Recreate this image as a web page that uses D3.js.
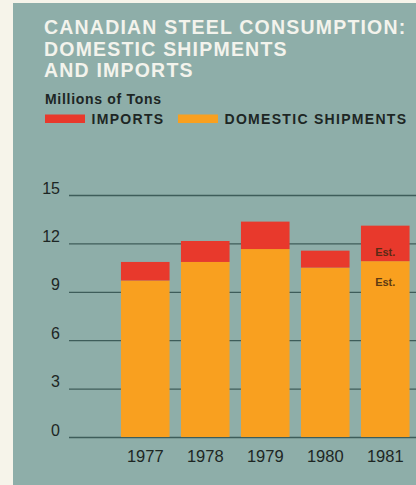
<!DOCTYPE html>
<html><head><meta charset="utf-8">
<script src="https://cdn.jsdelivr.net/npm/d3@7"></script>
<style>
html,body{margin:0;padding:0;background:#f6f4ea;}
svg{display:block;}
text{font-family:"Liberation Sans",Arial,Helvetica,sans-serif;}
</style></head>
<body>
<svg id="chart" width="416" height="485"></svg>
<script>
const years = ["1977","1978","1979","1980","1981"];
const domestic = [9.7, 10.85, 11.65, 10.5, 10.9];
const imports = [1.15, 1.3, 1.7, 1.05, 2.2];
const estimated = [false, false, false, false, true];
const yTicks = [0, 3, 6, 9, 12, 15];
const titleLines = ["CANADIAN STEEL CONSUMPTION:", "DOMESTIC SHIPMENTS", "AND IMPORTS"];
const unitLabel = "Millions of Tons";
const legendItems = [
  {label: "IMPORTS", key: "imports"},
  {label: "DOMESTIC SHIPMENTS", key: "domestic"}
];
const colors = {imports: "#e8392c", domestic: "#f9a01f"};

const svg = d3.select("#chart");
svg.append("rect").attr("x", 13).attr("y", 3).attr("width", 403).attr("height", 482).attr("fill", "#8eaea9");

const title = svg.append("text").attr("fill", "#f3f3ec").attr("font-weight", "bold")
  .attr("font-size", 19.5).attr("letter-spacing", 1.2);
titleLines.forEach((t, i) => {
  title.append("tspan").attr("x", 44).attr("y", 34 + i * 21.7).text(t);
});

svg.append("text").attr("x", 45).attr("y", 103.5).attr("font-size", 14).attr("font-weight", "bold")
  .attr("letter-spacing", 0.7).attr("fill", "#1d2624").text(unitLabel);

const legX = [45, 178];
legendItems.forEach((d, i) => {
  svg.append("rect").attr("x", legX[i]).attr("y", 114.5).attr("width", 40).attr("height", 8.5).attr("fill", colors[d.key]);
  svg.append("text").attr("x", legX[i] + 46.5).attr("y", 124).attr("font-size", 14).attr("font-weight", "bold")
    .attr("letter-spacing", 1.3).attr("fill", "#1d2624").text(d.label);
});

const y = d3.scaleLinear().domain([0, 15]).range([437, 195]);
const x = d3.scaleBand().domain(years).range([115.25, 415.25]).paddingInner(0.19).paddingOuter(0.095);

const yAxis = svg.append("g").attr("transform", "translate(69,0)")
  .call(d3.axisRight(y).tickValues(yTicks).tickSize(347).tickFormat(d3.format("d")));
yAxis.select(".domain").remove();
yAxis.selectAll(".tick line").attr("stroke", "#3e5d5a").attr("stroke-width", 1.3);
yAxis.selectAll(".tick text").attr("x", -9).attr("dy", "-0.12em").attr("text-anchor", "end")
  .attr("font-size", 16).attr("fill", "#1d2624");

const g = svg.append("g");
years.forEach((yr, i) => {
  g.append("rect").attr("x", x(yr)).attr("width", x.bandwidth())
    .attr("y", y(domestic[i])).attr("height", y(0) - y(domestic[i])).attr("fill", colors.domestic);
  g.append("rect").attr("x", x(yr)).attr("width", x.bandwidth())
    .attr("y", y(domestic[i] + imports[i])).attr("height", y(domestic[i]) - y(domestic[i] + imports[i])).attr("fill", colors.imports);
  if (estimated[i]) {
    g.append("text").attr("x", x(yr) + x.bandwidth() / 2).attr("y", y(domestic[i]) - 5)
      .attr("text-anchor", "middle").attr("font-size", 11).attr("font-weight", "bold").attr("fill", "#5b2a14").text("Est.");
    g.append("text").attr("x", x(yr) + x.bandwidth() / 2).attr("y", y(domestic[i]) + 25)
      .attr("text-anchor", "middle").attr("font-size", 11).attr("font-weight", "bold").attr("fill", "#5e3a12").text("Est.");
  }
});

const xAxis = svg.append("g").attr("transform", "translate(0,437)")
  .call(d3.axisBottom(x).tickSize(0));
xAxis.select(".domain").remove();
xAxis.selectAll(".tick text").attr("y", 24.5).attr("dy", 0).attr("font-size", 16.5).attr("fill", "#1d2624");
</script>
</body></html>
